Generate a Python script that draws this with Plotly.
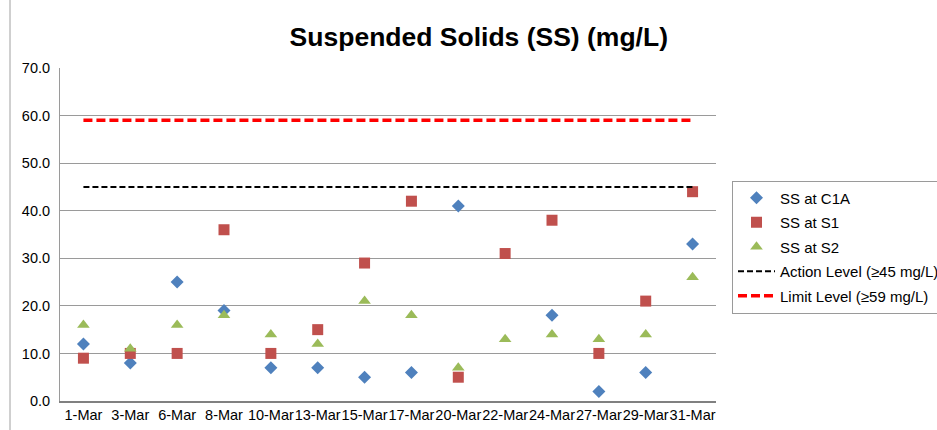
import plotly.graph_objects as go

dates = ["1-Mar", "3-Mar", "6-Mar", "8-Mar", "10-Mar", "13-Mar", "15-Mar",
         "17-Mar", "20-Mar", "22-Mar", "24-Mar", "27-Mar", "29-Mar", "31-Mar"]
ss_c1a = [12, 8, 25, 19, 7, 7, 5, 6, 41, None, 18, 2, 6, 33]
ss_s1 = [9, 10, 10, 36, 10, 15, 29, 42, 5, 31, 38, 10, 21, 44]
ss_s2 = [16, 11, 16, 18, 14, 12, 21, 18, 7, 13, 14, 13, 14, 26]
action_level = [45] * len(dates)
limit_level = [59] * len(dates)

font = "Liberation Sans, Arial, sans-serif"

fig = go.Figure()
fig.add_trace(go.Scatter(x=dates, y=ss_c1a, mode="markers", name="SS at C1A", legendgroup="a",
                         marker=dict(symbol="diamond", size=10, color="#4F81BD")))
fig.add_trace(go.Scatter(x=dates, y=ss_s1, mode="markers", name="SS at S1", legendgroup="b",
                         marker=dict(symbol="square", size=11, color="#C0504D")))
fig.add_trace(go.Scatter(x=dates, y=ss_s2, mode="markers", name="SS at S2", legendgroup="c",
                         marker=dict(symbol="triangle-up", size=11, color="#9BBB59")))
fig.add_trace(go.Scatter(x=dates, y=action_level, mode="lines", name="Action Level (≥45 mg/L)",
                         legendgroup="d",
                         line=dict(color="black", width=2, dash="6px,3px")))
fig.add_trace(go.Scatter(x=dates, y=limit_level, mode="lines", name="Limit Level (≥59 mg/L)",
                         legendgroup="e",
                         line=dict(color="#FF0000", width=3.5, dash="9px,4px")))

fig.update_layout(
    width=937, height=430,
    margin=dict(l=60, r=221, t=68, b=29, autoexpand=False),
    paper_bgcolor="white", plot_bgcolor="white",
    font=dict(family=font, size=14.5, color="black"),
    title=dict(text="<b>Suspended Solids (SS) (mg/L)</b>", x=0.511, xanchor="center",
               y=0.914, yanchor="middle", font=dict(size=26.5, family=font)),
    xaxis=dict(type="category", range=[-0.5, 13.5], showgrid=False,
               showline=True, linecolor="#808080", linewidth=2, ticks="",
               tickangle=0, tickfont=dict(size=14.5), automargin=False),
    yaxis=dict(range=[0, 70], dtick=10, tickformat=".1f", showgrid=True,
               gridcolor="#9a9a9a", gridwidth=1, showline=True, linecolor="#9a9a9a",
               linewidth=1, zeroline=False, ticks="", tickfont=dict(size=14.5),
               ticklabelstandoff=6, automargin=False),
    legend=dict(x=1.0244, y=0.662, xanchor="left", yanchor="top",
                bordercolor="#9a9a9a", borderwidth=1, font=dict(size=15),
                tracegroupgap=2, itemwidth=37),
    showlegend=True,
)
# outer chart border on the left
fig.add_shape(type="line", xref="paper", yref="paper",
              x0=(10 - 60) / 656, x1=(10 - 60) / 656, y0=-0.2, y1=1.3,
              line=dict(color="#a0a0a0", width=1))

fig.write_html("out.html", config={"displayModeBar": False},
               post_script="document.body.style.margin='0px';")
